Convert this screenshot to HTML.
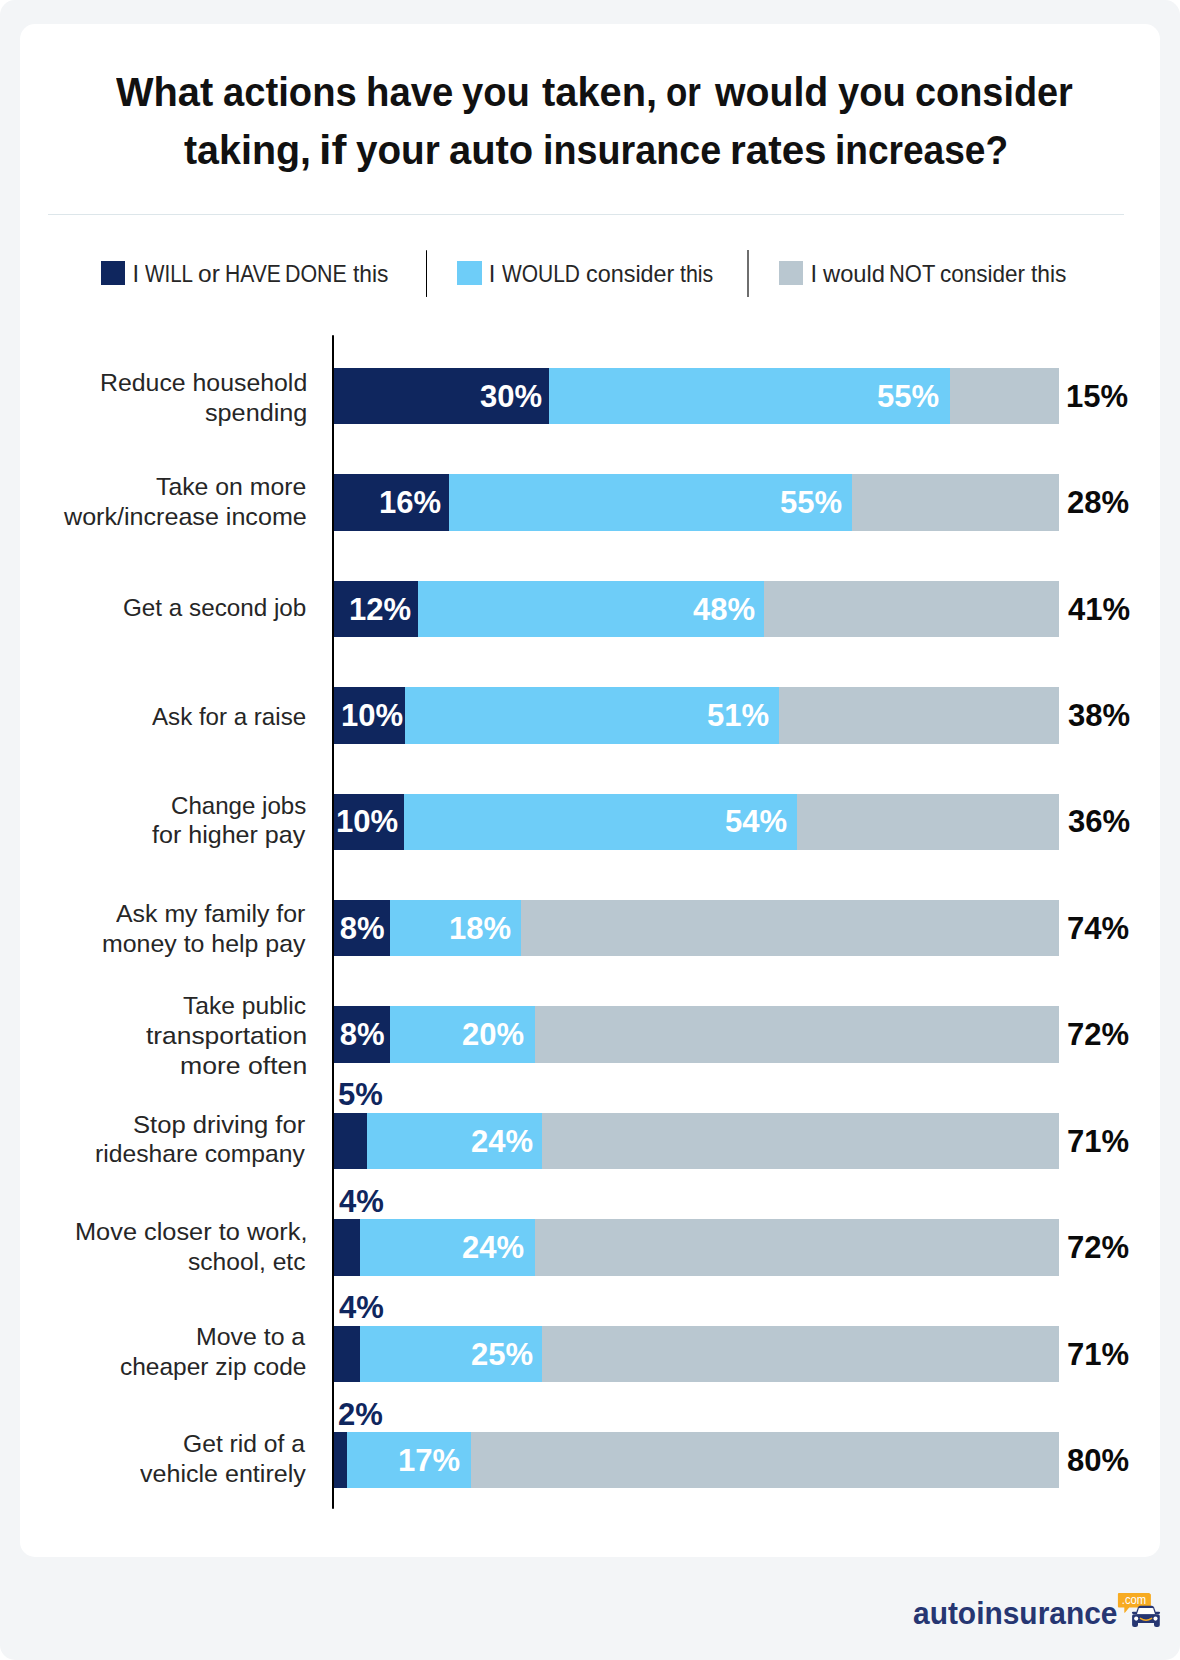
<!DOCTYPE html>
<html><head><meta charset="utf-8"><style>
html,body{margin:0;padding:0;background:#fff;}
body{width:1180px;height:1660px;position:relative;overflow:hidden;font-family:"Liberation Sans",sans-serif;}
#outer{position:absolute;left:0;top:0;width:1180px;height:1660px;background:#f3f5f7;border-radius:15px;}
#card{position:absolute;left:20px;top:23.5px;width:1140px;height:1533.5px;background:#fff;border-radius:15px;}
.t{position:absolute;white-space:nowrap;}
.r{position:absolute;}
</style></head><body>
<div id="outer"></div>
<div id="card"></div>
<div class="t" style="top:71.22px;font-size:41.5px;line-height:41.5px;color:#111;font-weight:bold;left:116.10px;transform:scaleX(0.9579);transform-origin:0 0;">What</div>
<div class="t" style="top:71.22px;font-size:41.5px;line-height:41.5px;color:#111;font-weight:bold;left:223.45px;transform:scaleX(0.9203);transform-origin:0 0;">actions</div>
<div class="t" style="top:71.22px;font-size:41.5px;line-height:41.5px;color:#111;font-weight:bold;left:365.92px;transform:scaleX(0.9228);transform-origin:0 0;">have</div>
<div class="t" style="top:71.22px;font-size:41.5px;line-height:41.5px;color:#111;font-weight:bold;left:462.32px;transform:scaleX(0.9202);transform-origin:0 0;">you</div>
<div class="t" style="top:71.22px;font-size:41.5px;line-height:41.5px;color:#111;font-weight:bold;left:542.00px;transform:scaleX(0.9587);transform-origin:0 0;">taken,</div>
<div class="t" style="top:71.22px;font-size:41.5px;line-height:41.5px;color:#111;font-weight:bold;left:666.40px;transform:scaleX(0.8421);transform-origin:0 0;">or</div>
<div class="t" style="top:71.22px;font-size:41.5px;line-height:41.5px;color:#111;font-weight:bold;left:715.40px;transform:scaleX(0.9451);transform-origin:0 0;">would</div>
<div class="t" style="top:71.22px;font-size:41.5px;line-height:41.5px;color:#111;font-weight:bold;left:837.92px;transform:scaleX(0.9202);transform-origin:0 0;">you</div>
<div class="t" style="top:71.22px;font-size:41.5px;line-height:41.5px;color:#111;font-weight:bold;left:915.39px;transform:scaleX(0.9124);transform-origin:0 0;">consider</div>
<div class="t" style="top:128.72px;font-size:41.5px;line-height:41.5px;color:#111;font-weight:bold;left:183.51px;transform:scaleX(0.9493);transform-origin:0 0;">taking,</div>
<div class="t" style="top:128.72px;font-size:41.5px;line-height:41.5px;color:#111;font-weight:bold;left:318.87px;transform:scaleX(1.0778);transform-origin:0 0;">if</div>
<div class="t" style="top:128.72px;font-size:41.5px;line-height:41.5px;color:#111;font-weight:bold;left:355.51px;transform:scaleX(0.9314);transform-origin:0 0;">your</div>
<div class="t" style="top:128.72px;font-size:41.5px;line-height:41.5px;color:#111;font-weight:bold;left:448.80px;transform:scaleX(0.9615);transform-origin:0 0;">auto</div>
<div class="t" style="top:128.72px;font-size:41.5px;line-height:41.5px;color:#111;font-weight:bold;left:543.16px;transform:scaleX(0.9086);transform-origin:0 0;">insurance</div>
<div class="t" style="top:128.72px;font-size:41.5px;line-height:41.5px;color:#111;font-weight:bold;left:730.17px;transform:scaleX(0.9734);transform-origin:0 0;">rates</div>
<div class="t" style="top:128.72px;font-size:41.5px;line-height:41.5px;color:#111;font-weight:bold;left:835.01px;transform:scaleX(0.8933);transform-origin:0 0;">increase?</div>
<div class="r" style="left:48.00px;top:213.60px;width:1076.00px;height:1.30px;background:#dde6ea;"></div>
<div class="r" style="left:101.00px;top:261.00px;width:24.30px;height:24.30px;background:#0f265e;"></div>
<div class="t" style="top:262.86px;font-size:23.7px;line-height:23.7px;color:#262626;left:132.57px;">I</div>
<div class="t" style="top:262.86px;font-size:23.7px;line-height:23.7px;color:#262626;left:145.30px;transform:scaleX(0.8696);transform-origin:0 0;">WILL</div>
<div class="t" style="top:262.86px;font-size:23.7px;line-height:23.7px;color:#262626;left:198.22px;transform:scaleX(1.0348);transform-origin:0 0;">or</div>
<div class="t" style="top:262.86px;font-size:23.7px;line-height:23.7px;color:#262626;left:224.91px;transform:scaleX(0.8906);transform-origin:0 0;">HAVE</div>
<div class="t" style="top:262.86px;font-size:23.7px;line-height:23.7px;color:#262626;left:285.09px;transform:scaleX(0.9033);transform-origin:0 0;">DONE</div>
<div class="t" style="top:262.86px;font-size:23.7px;line-height:23.7px;color:#262626;left:353.47px;transform:scaleX(0.9612);transform-origin:0 0;">this</div>
<div class="r" style="left:426.00px;top:250.00px;width:1.20px;height:47.00px;background:#000;border-radius:1px;"></div>
<div class="r" style="left:457.30px;top:261.00px;width:24.30px;height:24.30px;background:#6ecdf8;"></div>
<div class="t" style="top:262.86px;font-size:23.7px;line-height:23.7px;color:#262626;left:488.77px;">I</div>
<div class="t" style="top:262.86px;font-size:23.7px;line-height:23.7px;color:#262626;left:502.00px;transform:scaleX(0.8840);transform-origin:0 0;">WOULD</div>
<div class="t" style="top:262.86px;font-size:23.7px;line-height:23.7px;color:#262626;left:585.76px;transform:scaleX(0.9875);transform-origin:0 0;">consider</div>
<div class="t" style="top:262.86px;font-size:23.7px;line-height:23.7px;color:#262626;left:679.69px;transform:scaleX(0.9026);transform-origin:0 0;">this</div>
<div class="r" style="left:747.00px;top:250.00px;width:2.00px;height:47.00px;background:#6e6e6e;"></div>
<div class="r" style="left:779.20px;top:261.00px;width:24.00px;height:24.30px;background:#b9c7d0;"></div>
<div class="t" style="top:262.86px;font-size:23.7px;line-height:23.7px;color:#262626;left:810.47px;">I</div>
<div class="t" style="top:262.86px;font-size:23.7px;line-height:23.7px;color:#262626;left:822.80px;transform:scaleX(1.0011);transform-origin:0 0;">would</div>
<div class="t" style="top:262.86px;font-size:23.7px;line-height:23.7px;color:#262626;left:888.84px;transform:scaleX(0.9258);transform-origin:0 0;">NOT</div>
<div class="t" style="top:262.86px;font-size:23.7px;line-height:23.7px;color:#262626;left:939.80px;transform:scaleX(0.9491);transform-origin:0 0;">consider</div>
<div class="t" style="top:262.86px;font-size:23.7px;line-height:23.7px;color:#262626;left:1031.17px;transform:scaleX(0.9612);transform-origin:0 0;">this</div>
<div class="r" style="left:332.00px;top:335.00px;width:2.00px;height:1174.30px;background:#000;border-radius:1px;"></div>
<div class="r" style="left:334.00px;top:368.00px;width:215.00px;height:56.30px;background:#0f265e;"></div>
<div class="r" style="left:549.00px;top:368.00px;width:401.20px;height:56.30px;background:#6ecdf8;"></div>
<div class="r" style="left:950.20px;top:368.00px;width:108.60px;height:56.30px;background:#b9c7d0;"></div>
<div class="t" style="top:370.82px;font-size:24.8px;line-height:24.8px;color:#262626;left:99.71px;transform:scaleX(1.0019);transform-origin:0 0;">Reduce household</div>
<div class="t" style="top:400.62px;font-size:24.8px;line-height:24.8px;color:#262626;left:204.64px;transform:scaleX(1.0162);transform-origin:0 0;">spending</div>
<div class="t" style="top:380.83px;font-size:31.5px;line-height:31.5px;color:#fff;font-weight:bold;left:479.33px;width:63.04px;transform:scaleX(0.9850);transform-origin:100% 0;">30%</div>
<div class="t" style="top:380.83px;font-size:31.5px;line-height:31.5px;color:#fff;font-weight:bold;left:876.33px;width:63.04px;transform:scaleX(0.9850);transform-origin:100% 0;">55%</div>
<div class="t" style="top:380.83px;font-size:31.5px;line-height:31.5px;color:#0a0a0a;font-weight:bold;left:1066.34px;transform:scaleX(0.9850);transform-origin:0 0;">15%</div>
<div class="r" style="left:334.00px;top:474.41px;width:115.10px;height:56.30px;background:#0f265e;"></div>
<div class="r" style="left:449.10px;top:474.41px;width:402.90px;height:56.30px;background:#6ecdf8;"></div>
<div class="r" style="left:852.00px;top:474.41px;width:206.80px;height:56.30px;background:#b9c7d0;"></div>
<div class="t" style="top:474.92px;font-size:24.8px;line-height:24.8px;color:#262626;left:156.10px;transform:scaleX(1.0003);transform-origin:0 0;">Take on more</div>
<div class="t" style="top:504.72px;font-size:24.8px;line-height:24.8px;color:#262626;left:63.70px;transform:scaleX(1.0123);transform-origin:0 0;">work/increase income</div>
<div class="t" style="top:487.24px;font-size:31.5px;line-height:31.5px;color:#fff;font-weight:bold;left:377.93px;width:63.04px;transform:scaleX(0.9850);transform-origin:100% 0;">16%</div>
<div class="t" style="top:487.24px;font-size:31.5px;line-height:31.5px;color:#fff;font-weight:bold;left:779.03px;width:63.04px;transform:scaleX(0.9850);transform-origin:100% 0;">55%</div>
<div class="t" style="top:487.24px;font-size:31.5px;line-height:31.5px;color:#0a0a0a;font-weight:bold;left:1067.27px;transform:scaleX(0.9850);transform-origin:0 0;">28%</div>
<div class="r" style="left:334.00px;top:580.82px;width:83.70px;height:56.30px;background:#0f265e;"></div>
<div class="r" style="left:417.70px;top:580.82px;width:346.30px;height:56.30px;background:#6ecdf8;"></div>
<div class="r" style="left:764.00px;top:580.82px;width:294.80px;height:56.30px;background:#b9c7d0;"></div>
<div class="t" style="top:595.92px;font-size:24.8px;line-height:24.8px;color:#262626;left:122.89px;transform:scaleX(0.9776);transform-origin:0 0;">Get a second job</div>
<div class="t" style="top:593.64px;font-size:31.5px;line-height:31.5px;color:#fff;font-weight:bold;left:347.93px;width:63.04px;transform:scaleX(0.9850);transform-origin:100% 0;">12%</div>
<div class="t" style="top:593.64px;font-size:31.5px;line-height:31.5px;color:#fff;font-weight:bold;left:691.73px;width:63.04px;transform:scaleX(0.9850);transform-origin:100% 0;">48%</div>
<div class="t" style="top:593.64px;font-size:31.5px;line-height:31.5px;color:#0a0a0a;font-weight:bold;left:1067.89px;transform:scaleX(0.9850);transform-origin:0 0;">41%</div>
<div class="r" style="left:334.00px;top:687.23px;width:70.90px;height:56.30px;background:#0f265e;"></div>
<div class="r" style="left:404.90px;top:687.23px;width:374.20px;height:56.30px;background:#6ecdf8;"></div>
<div class="r" style="left:779.10px;top:687.23px;width:279.70px;height:56.30px;background:#b9c7d0;"></div>
<div class="t" style="top:704.62px;font-size:24.8px;line-height:24.8px;color:#262626;left:152.30px;transform:scaleX(0.9724);transform-origin:0 0;">Ask for a raise</div>
<div class="t" style="top:700.06px;font-size:31.5px;line-height:31.5px;color:#fff;font-weight:bold;left:339.93px;width:63.04px;transform:scaleX(0.9850);transform-origin:100% 0;">10%</div>
<div class="t" style="top:700.06px;font-size:31.5px;line-height:31.5px;color:#fff;font-weight:bold;left:705.93px;width:63.04px;transform:scaleX(0.9850);transform-origin:100% 0;">51%</div>
<div class="t" style="top:700.06px;font-size:31.5px;line-height:31.5px;color:#0a0a0a;font-weight:bold;left:1067.58px;transform:scaleX(0.9850);transform-origin:0 0;">38%</div>
<div class="r" style="left:334.00px;top:793.64px;width:70.00px;height:56.30px;background:#0f265e;"></div>
<div class="r" style="left:404.00px;top:793.64px;width:392.90px;height:56.30px;background:#6ecdf8;"></div>
<div class="r" style="left:796.90px;top:793.64px;width:261.90px;height:56.30px;background:#b9c7d0;"></div>
<div class="t" style="top:793.52px;font-size:24.8px;line-height:24.8px;color:#262626;left:171.00px;transform:scaleX(0.9715);transform-origin:0 0;">Change jobs</div>
<div class="t" style="top:823.32px;font-size:24.8px;line-height:24.8px;color:#262626;left:152.05px;transform:scaleX(1.0107);transform-origin:0 0;">for higher pay</div>
<div class="t" style="top:806.47px;font-size:31.5px;line-height:31.5px;color:#fff;font-weight:bold;left:335.03px;width:63.04px;transform:scaleX(0.9850);transform-origin:100% 0;">10%</div>
<div class="t" style="top:806.47px;font-size:31.5px;line-height:31.5px;color:#fff;font-weight:bold;left:723.93px;width:63.04px;transform:scaleX(0.9850);transform-origin:100% 0;">54%</div>
<div class="t" style="top:806.47px;font-size:31.5px;line-height:31.5px;color:#0a0a0a;font-weight:bold;left:1067.58px;transform:scaleX(0.9850);transform-origin:0 0;">36%</div>
<div class="r" style="left:334.00px;top:900.05px;width:55.70px;height:56.30px;background:#0f265e;"></div>
<div class="r" style="left:389.70px;top:900.05px;width:131.50px;height:56.30px;background:#6ecdf8;"></div>
<div class="r" style="left:521.20px;top:900.05px;width:537.60px;height:56.30px;background:#b9c7d0;"></div>
<div class="t" style="top:901.92px;font-size:24.8px;line-height:24.8px;color:#262626;left:116.10px;transform:scaleX(1.0033);transform-origin:0 0;">Ask my family for</div>
<div class="t" style="top:931.72px;font-size:24.8px;line-height:24.8px;color:#262626;left:101.76px;transform:scaleX(1.0041);transform-origin:0 0;">money to help pay</div>
<div class="t" style="top:912.88px;font-size:31.5px;line-height:31.5px;color:#fff;font-weight:bold;left:338.66px;width:45.53px;transform:scaleX(0.9850);transform-origin:100% 0;">8%</div>
<div class="t" style="top:912.88px;font-size:31.5px;line-height:31.5px;color:#fff;font-weight:bold;left:448.33px;width:63.04px;transform:scaleX(0.9850);transform-origin:100% 0;">18%</div>
<div class="t" style="top:912.88px;font-size:31.5px;line-height:31.5px;color:#0a0a0a;font-weight:bold;left:1066.96px;transform:scaleX(0.9850);transform-origin:0 0;">74%</div>
<div class="r" style="left:334.00px;top:1006.46px;width:55.70px;height:56.30px;background:#0f265e;"></div>
<div class="r" style="left:389.70px;top:1006.46px;width:144.90px;height:56.30px;background:#6ecdf8;"></div>
<div class="r" style="left:534.60px;top:1006.46px;width:524.20px;height:56.30px;background:#b9c7d0;"></div>
<div class="t" style="top:993.72px;font-size:24.8px;line-height:24.8px;color:#262626;left:182.91px;transform:scaleX(0.9922);transform-origin:0 0;">Take public</div>
<div class="t" style="top:1023.62px;font-size:24.8px;line-height:24.8px;color:#262626;left:145.74px;transform:scaleX(1.0628);transform-origin:0 0;">transportation</div>
<div class="t" style="top:1053.62px;font-size:24.8px;line-height:24.8px;color:#262626;left:179.84px;transform:scaleX(1.0732);transform-origin:0 0;">more often</div>
<div class="t" style="top:1019.28px;font-size:31.5px;line-height:31.5px;color:#fff;font-weight:bold;left:338.66px;width:45.53px;transform:scaleX(0.9850);transform-origin:100% 0;">8%</div>
<div class="t" style="top:1019.28px;font-size:31.5px;line-height:31.5px;color:#fff;font-weight:bold;left:461.33px;width:63.04px;transform:scaleX(0.9850);transform-origin:100% 0;">20%</div>
<div class="t" style="top:1019.28px;font-size:31.5px;line-height:31.5px;color:#0a0a0a;font-weight:bold;left:1066.96px;transform:scaleX(0.9850);transform-origin:0 0;">72%</div>
<div class="r" style="left:334.00px;top:1112.87px;width:33.00px;height:56.30px;background:#0f265e;"></div>
<div class="r" style="left:367.00px;top:1112.87px;width:175.10px;height:56.30px;background:#6ecdf8;"></div>
<div class="r" style="left:542.10px;top:1112.87px;width:516.70px;height:56.30px;background:#b9c7d0;"></div>
<div class="t" style="top:1112.82px;font-size:24.8px;line-height:24.8px;color:#262626;left:133.32px;transform:scaleX(1.0329);transform-origin:0 0;">Stop driving for</div>
<div class="t" style="top:1142.32px;font-size:24.8px;line-height:24.8px;color:#262626;left:95.47px;transform:scaleX(0.9949);transform-origin:0 0;">rideshare company</div>
<div class="t" style="top:1079.39px;font-size:31.5px;line-height:31.5px;color:#0f265e;font-weight:bold;left:338.47px;transform:scaleX(0.9850);transform-origin:0 0;">5%</div>
<div class="t" style="top:1125.69px;font-size:31.5px;line-height:31.5px;color:#fff;font-weight:bold;left:469.53px;width:63.04px;transform:scaleX(0.9850);transform-origin:100% 0;">24%</div>
<div class="t" style="top:1125.69px;font-size:31.5px;line-height:31.5px;color:#0a0a0a;font-weight:bold;left:1066.96px;transform:scaleX(0.9850);transform-origin:0 0;">71%</div>
<div class="r" style="left:334.00px;top:1219.28px;width:26.20px;height:56.30px;background:#0f265e;"></div>
<div class="r" style="left:360.20px;top:1219.28px;width:174.80px;height:56.30px;background:#6ecdf8;"></div>
<div class="r" style="left:535.00px;top:1219.28px;width:523.80px;height:56.30px;background:#b9c7d0;"></div>
<div class="t" style="top:1219.72px;font-size:24.8px;line-height:24.8px;color:#262626;left:74.97px;transform:scaleX(1.0224);transform-origin:0 0;">Move closer to work,</div>
<div class="t" style="top:1249.52px;font-size:24.8px;line-height:24.8px;color:#262626;left:188.46px;transform:scaleX(0.9910);transform-origin:0 0;">school, etc</div>
<div class="t" style="top:1185.80px;font-size:31.5px;line-height:31.5px;color:#0f265e;font-weight:bold;left:339.09px;transform:scaleX(0.9850);transform-origin:0 0;">4%</div>
<div class="t" style="top:1232.10px;font-size:31.5px;line-height:31.5px;color:#fff;font-weight:bold;left:461.33px;width:63.04px;transform:scaleX(0.9850);transform-origin:100% 0;">24%</div>
<div class="t" style="top:1232.10px;font-size:31.5px;line-height:31.5px;color:#0a0a0a;font-weight:bold;left:1066.96px;transform:scaleX(0.9850);transform-origin:0 0;">72%</div>
<div class="r" style="left:334.00px;top:1325.69px;width:26.20px;height:56.30px;background:#0f265e;"></div>
<div class="r" style="left:360.20px;top:1325.69px;width:181.90px;height:56.30px;background:#6ecdf8;"></div>
<div class="r" style="left:542.10px;top:1325.69px;width:516.70px;height:56.30px;background:#b9c7d0;"></div>
<div class="t" style="top:1324.62px;font-size:24.8px;line-height:24.8px;color:#262626;left:196.01px;transform:scaleX(1.0029);transform-origin:0 0;">Move to a</div>
<div class="t" style="top:1354.72px;font-size:24.8px;line-height:24.8px;color:#262626;left:119.92px;transform:scaleX(0.9869);transform-origin:0 0;">cheaper zip code</div>
<div class="t" style="top:1292.21px;font-size:31.5px;line-height:31.5px;color:#0f265e;font-weight:bold;left:339.09px;transform:scaleX(0.9850);transform-origin:0 0;">4%</div>
<div class="t" style="top:1338.51px;font-size:31.5px;line-height:31.5px;color:#fff;font-weight:bold;left:469.53px;width:63.04px;transform:scaleX(0.9850);transform-origin:100% 0;">25%</div>
<div class="t" style="top:1338.51px;font-size:31.5px;line-height:31.5px;color:#0a0a0a;font-weight:bold;left:1066.96px;transform:scaleX(0.9850);transform-origin:0 0;">71%</div>
<div class="r" style="left:334.00px;top:1432.10px;width:12.80px;height:56.30px;background:#0f265e;"></div>
<div class="r" style="left:346.80px;top:1432.10px;width:124.30px;height:56.30px;background:#6ecdf8;"></div>
<div class="r" style="left:471.10px;top:1432.10px;width:587.70px;height:56.30px;background:#b9c7d0;"></div>
<div class="t" style="top:1432.32px;font-size:24.8px;line-height:24.8px;color:#262626;left:183.17px;transform:scaleX(0.9941);transform-origin:0 0;">Get rid of a</div>
<div class="t" style="top:1462.32px;font-size:24.8px;line-height:24.8px;color:#262626;left:139.50px;transform:scaleX(1.0108);transform-origin:0 0;">vehicle entirely</div>
<div class="t" style="top:1398.62px;font-size:31.5px;line-height:31.5px;color:#0f265e;font-weight:bold;left:338.47px;transform:scaleX(0.9850);transform-origin:0 0;">2%</div>
<div class="t" style="top:1444.92px;font-size:31.5px;line-height:31.5px;color:#fff;font-weight:bold;left:396.73px;width:63.04px;transform:scaleX(0.9850);transform-origin:100% 0;">17%</div>
<div class="t" style="top:1444.92px;font-size:31.5px;line-height:31.5px;color:#0a0a0a;font-weight:bold;left:1067.27px;transform:scaleX(0.9850);transform-origin:0 0;">80%</div>
<div class="t" style="top:1597.95px;font-size:31px;line-height:31px;color:#263672;font-weight:bold;left:912.80px;transform:scaleX(0.9649);transform-origin:0 0;">autoinsurance</div>
<svg class="r" style="left:1110px;top:1585px" width="60" height="50" viewBox="0 0 60 50">
<path d="M8.9 7.9H39.2L40.9 9.6V21.6q0 1-1 1H19.2L14.9 27.7q-.5.4-.6-.3V22.6H8.9q-1 0-1-1V8.9q0-1 1-1z" fill="#f7ab22"/>
<text x="24" y="18.8" font-family="Liberation Sans" font-size="12.5" fill="#fff" text-anchor="middle" transform="translate(24 0) scale(0.9 1) translate(-24 0)">.com</text>
<path d="M25.4 29.6L27.9 22.4Q28.5 20.8 30.2 20.8H41.8Q43.5 20.8 44.1 22.4L46.6 29.6Z" fill="#263672"/>
<rect x="21.9" y="26.7" width="5" height="2.3" rx="1.15" fill="#263672"/>
<rect x="45.1" y="26.7" width="5" height="2.3" rx="1.15" fill="#263672"/>
<path d="M22.1 31Q22.1 29.2 23.9 29.2H48Q49.8 29.2 49.8 31V40Q49.8 41.9 47.6 41.9H46.2Q44 41.9 44 40V37.9H28V40Q28 41.9 25.8 41.9H24.3Q22.1 41.9 22.1 40Z" fill="#263672"/>
<path d="M27.0 29.0L28.8 23.6Q29 23.1 29.6 23.1H42.4Q43 23.1 43.2 23.6L45 29.0Z" fill="#fff"/>
<circle cx="26.2" cy="33.6" r="2.05" fill="#fff"/><circle cx="45.5" cy="33.6" r="2.05" fill="#fff"/>
<path d="M30.4 33.3Q36 37 41.6 33.3" stroke="#f7ab22" stroke-width="1.5" fill="none" stroke-linecap="round"/>
</svg>
</body></html>
